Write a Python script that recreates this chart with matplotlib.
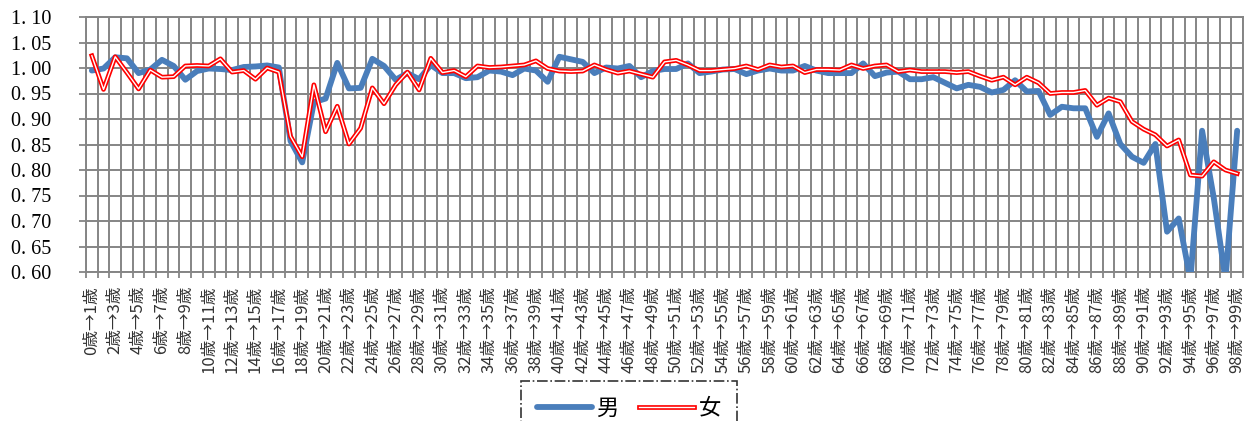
import matplotlib
matplotlib.use("Agg")
import matplotlib.pyplot as plt
from matplotlib.lines import Line2D
from matplotlib.ticker import FixedLocator, FuncFormatter

# 年齢区分（0歳→1歳 … 98歳→99歳）
ages = list(range(99))
labels = [f"{a}歳→{a + 1}歳" for a in ages]

# 男の比率
male = [0.995, 0.999, 1.021, 1.019, 0.990, 0.997, 1.016, 1.004, 0.977, 0.994,
        0.999, 0.998, 0.996, 1.002, 1.003, 1.005, 1.001, 0.857, 0.815, 0.933,
        0.940, 1.010, 0.960, 0.961, 1.018, 1.004, 0.977, 0.990, 0.978, 1.006,
        0.990, 0.990, 0.980, 0.982, 0.995, 0.993, 0.986, 0.999, 0.995, 0.973,
        1.022, 1.017, 1.012, 0.990, 1.001, 0.999, 1.004, 0.982, 0.994, 0.998,
        0.998, 1.009, 0.990, 0.993, 0.997, 0.998, 0.988, 0.995, 0.999, 0.995,
        0.995, 1.004, 0.995, 0.990, 0.990, 0.990, 1.009, 0.984, 0.991, 0.993,
        0.978, 0.978, 0.982, 0.971, 0.960, 0.967, 0.963, 0.952, 0.957, 0.976,
        0.954, 0.955, 0.908, 0.924, 0.921, 0.921, 0.865, 0.911, 0.851, 0.826,
        0.814, 0.851, 0.679, 0.705, 0.585, 0.877, 0.745, 0.585, 0.877]

# 女の比率
female = [1.024, 0.958, 1.022, 0.991, 0.959, 0.996, 0.982, 0.983, 1.004, 1.005,
          1.004, 1.018, 0.992, 0.995, 0.978, 1.000, 0.992, 0.866, 0.826, 0.967,
          0.875, 0.925, 0.851, 0.882, 0.961, 0.930, 0.967, 0.992, 0.957, 1.019,
          0.991, 0.995, 0.983, 1.004, 1.001, 1.002, 1.004, 1.006, 1.014, 0.999,
          0.994, 0.993, 0.994, 1.006, 0.997, 0.990, 0.994, 0.988, 0.982, 1.012,
          1.015, 1.006, 0.995, 0.995, 0.997, 0.999, 1.004, 0.997, 1.006, 1.002,
          1.004, 0.991, 0.997, 0.997, 0.996, 1.006, 0.999, 1.004, 1.006, 0.993,
          0.996, 0.993, 0.993, 0.993, 0.991, 0.993, 0.984, 0.976, 0.982, 0.967,
          0.982, 0.971, 0.950, 0.952, 0.952, 0.956, 0.927, 0.941, 0.934, 0.895,
          0.880, 0.869, 0.847, 0.859, 0.790, 0.788, 0.816, 0.800, 0.793]

y_ticks = [0.60, 0.65, 0.70, 0.75, 0.80, 0.85, 0.90, 0.95, 1.00, 1.05, 1.10]

grid_color = "#858585"
blue = "#4A7EBB"
red = "#FF0000"
serif_font = ["Liberation Serif", "Noto Sans CJK JP"]
cjk_font = ["Noto Sans CJK JP", "DejaVu Sans"]

fig = plt.figure(figsize=(12.56, 4.21), dpi=100)
ax = fig.add_axes([86 / 1256, 149 / 421, 1157 / 1256, 255 / 421])

# 男：太い青線
ax.plot(ages, male, color=blue, lw=4.2, solid_joinstyle="round",
        solid_capstyle="round", zorder=3)
# 女：赤の二重線（赤の太線の上に白の細線）
ax.plot(ages, female, color=red, lw=3.4, solid_joinstyle="round", zorder=4)
ax.plot(ages, female, color="white", lw=1.0, solid_joinstyle="round", zorder=5)

ax.set_xlim(-0.5, 98.5)
ax.set_ylim(0.60, 1.10)

# 目盛りと補助線
ax.set_yticks(y_ticks)
ax.yaxis.set_major_formatter(FuncFormatter(lambda v, p: f"{v:.2f}".replace(".", ". ")))
ax.set_xticks(ages[::2])
ax.set_xticklabels(labels[::2], rotation=90, family=cjk_font, fontsize=12,
                   color="#333333")
ax.xaxis.set_minor_locator(FixedLocator([a - 0.5 for a in ages] + [98.5]))
ax.tick_params(axis="x", which="major", length=0, pad=10)
ax.tick_params(axis="x", which="minor", length=4, width=1.3, color=grid_color)
ax.tick_params(axis="y", length=5, width=1.3, color=grid_color, pad=20)
for t in ax.get_yticklabels():
    t.set_family(serif_font)
    t.set_fontsize(14.5)

ax.grid(True, axis="x", which="minor", color=grid_color, lw=1.4)
ax.grid(True, axis="y", which="major", color=grid_color, lw=1.4)
ax.grid(False, axis="x", which="major")
ax.set_axisbelow(True)
for s in ax.spines.values():
    s.set_color(grid_color)
    s.set_linewidth(1.4)

# 凡例
h_male = Line2D([], [], color=blue, lw=4.2, solid_capstyle="round")
h_red = Line2D([], [], color=red, lw=3.4)
h_white = Line2D([], [], color="white", lw=1.0)
leg = fig.legend([h_male, (h_red, h_white)], ["男", "女"],
                 loc="upper left", bbox_to_anchor=(521 / 1256, 1 - 381 / 421),
                 ncol=2, prop={"family": cjk_font, "size": 16},
                 fancybox=False, handlelength=2.5, handletextpad=0.2,
                 columnspacing=0.9, borderpad=0.7, borderaxespad=0)
leg.get_frame().set_edgecolor("black")
leg.get_frame().set_linestyle("-.")
leg.get_frame().set_linewidth(1.2)

fig.savefig("out.png", dpi=100)
